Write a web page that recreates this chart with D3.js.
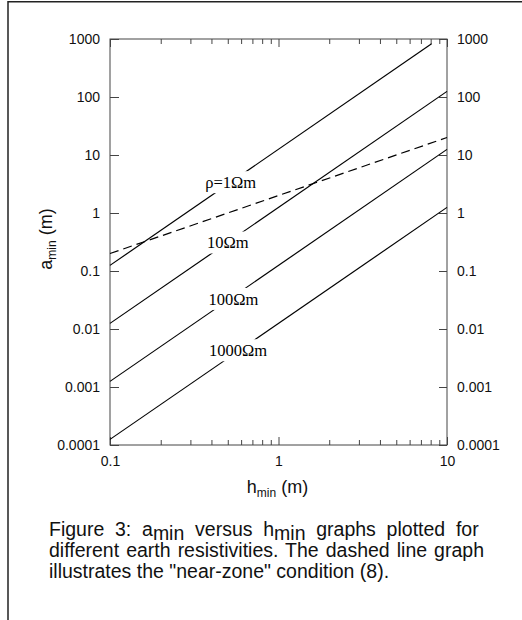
<!DOCTYPE html>
<meta charset="utf-8">
<style>
  body { margin: 0; background: #fff; }
  svg { display: block; }
</style>
<body>
<div id="chart"></div>

<script src="https://cdn.jsdelivr.net/npm/d3@7"></script>
<script>

// tick values and labels
var xMajor = [0.1, 1, 10];
var xLabels = ["0.1", "1", "10"];
var xMinor = [0.2, 0.3, 0.4, 0.5, 0.6, 0.7, 0.8, 0.9, 2, 3, 4, 5, 6, 7, 8, 9];
var yMajor = [0.0001, 0.001, 0.01, 0.1, 1, 10, 100, 1000];
var yLabels = ["0.0001", "0.001", "0.01", "0.1", "1", "10", "100", "1000"];

// a_min against h_min, end points of each straight line (log-log plot)
var rho1 = [[0.1, 0.125], [8.1, 830]];
var rho10 = [[0.1, 0.0125], [10, 125]];
var rho100 = [[0.1, 0.00125], [10, 12.5]];
var rho1000 = [[0.1, 0.000125], [10, 1.25]];
var nearZone = [[0.1, 0.2], [10, 20]];

// curve labels, sitting on their line
var curveNames = ["ρ=1Ωm", "10Ωm", "100Ωm", "1000Ωm"];
var labelH = [0.52, 0.50, 0.54, 0.575];
var labelA = [3.4, 0.31, 0.033, 0.0043];

var margin = {top: 39, right: 75, bottom: 175, left: 110},
    width = 447 - margin.left,
    height = 445 - margin.top;

var sans = "'Liberation Sans', Arial, sans-serif";
var frameColor = "#444";

var root = d3.select("#chart")
  .append("svg")
    .attr("width", 522)
    .attr("height", 620);

// page border
root.append("rect")
  .attr("x", 8).attr("y", 1.75)
  .attr("width", 700).attr("height", 700)
  .attr("fill", "none")
  .attr("stroke", "#222")
  .attr("stroke-width", 1.5);

var svg = root.append("g")
  .attr("transform", "translate(" + margin.left + "," + margin.top + ")");

var x = d3.scaleLog().domain([0.1, 10]).range([0, width]);
var y = d3.scaleLog().domain([0.0001, 1000]).range([height, 0]);

function styleAxis(g) {
  g.select(".domain").remove();
  g.attr("font-family", sans).attr("font-size", 14);
  g.selectAll(".tick line").attr("stroke", frameColor);
  g.selectAll(".tick text").attr("fill", "#111");
}

// left and right
svg.append("g")
  .call(d3.axisLeft(y).tickValues(yMajor).tickFormat(function(d, i) { return yLabels[i]; })
    .tickSizeInner(-9).tickSizeOuter(0).tickPadding(10))
  .call(styleAxis);

svg.append("g")
  .attr("transform", "translate(" + width + ",0)")
  .call(d3.axisRight(y).tickValues(yMajor).tickFormat(function(d, i) { return yLabels[i]; })
    .tickSizeInner(-8).tickSizeOuter(0).tickPadding(10))
  .call(styleAxis);

// bottom
svg.append("g")
  .attr("transform", "translate(0," + height + ")")
  .call(d3.axisBottom(x).tickValues(xMajor).tickFormat(function(d, i) { return xLabels[i]; })
    .tickSizeInner(-8).tickSizeOuter(0).tickPadding(11))
  .call(styleAxis);

svg.append("g")
  .attr("transform", "translate(0," + height + ")")
  .call(d3.axisBottom(x).tickValues(xMinor).tickFormat("").tickSizeInner(-5).tickSizeOuter(0))
  .call(styleAxis);

// top, no labels
svg.append("g")
  .call(d3.axisTop(x).tickValues(xMajor).tickFormat("").tickSizeInner(-8).tickSizeOuter(0))
  .call(styleAxis);

svg.append("g")
  .call(d3.axisTop(x).tickValues(xMinor).tickFormat("").tickSizeInner(-5).tickSizeOuter(0))
  .call(styleAxis);

// frame
svg.append("rect")
  .attr("width", width).attr("height", height)
  .attr("fill", "none")
  .attr("stroke", frameColor)
  .attr("stroke-width", 1);

var line = d3.line()
  .x(function(d) { return x(d[0]); })
  .y(function(d) { return y(d[1]); });

[rho1, rho10, rho100, rho1000].forEach(function(s) {
  svg.append("path")
    .datum(s)
    .attr("d", line)
    .attr("fill", "none")
    .attr("stroke", "#000")
    .attr("stroke-width", 1.2);
});

svg.append("path")
  .datum(nearZone)
  .attr("d", line)
  .attr("fill", "none")
  .attr("stroke", "#000")
  .attr("stroke-width", 1.2)
  .attr("stroke-dasharray", "9,5");

// labels cut a gap in their line
curveNames.forEach(function(name, i) {
  var g = svg.append("g")
    .attr("transform", "translate(" + x(labelH[i]) + "," + y(labelA[i]) + ")");
  var bg = g.append("rect").attr("fill", "#fff");
  var t = g.append("text")
    .attr("text-anchor", "middle")
    .attr("dy", "0.35em")
    .attr("font-family", "'Liberation Serif', 'Times New Roman', serif")
    .attr("font-size", 16.5)
    .text(name);
  var w = t.node().getComputedTextLength() + 2;
  bg.attr("x", -w / 2).attr("y", -11).attr("width", w).attr("height", 22);
});

// axis titles
var xt = svg.append("text")
  .attr("x", width / 2 - 1)
  .attr("y", height + 48)
  .attr("text-anchor", "middle")
  .attr("font-family", sans)
  .attr("font-size", 18)
  .attr("fill", "#111");
xt.append("tspan").text("h");
xt.append("tspan").attr("font-size", 12).attr("dy", 4).text("min");
xt.append("tspan").attr("dy", -4).text(" (m)");

var yt = root.append("text")
  .attr("transform", "translate(52,239) rotate(-90)")
  .attr("text-anchor", "middle")
  .attr("font-family", sans)
  .attr("font-size", 18)
  .attr("fill", "#111");
yt.append("tspan").text("a");
yt.append("tspan").attr("font-size", 12).attr("dy", 4).text("min");
yt.append("tspan").attr("dy", -4).text(" (m)");

// caption, first two lines justified
var capLeft = 49, capWidth = 435;
var caption = root.append("g")
  .attr("font-family", sans)
  .attr("font-size", 19.5)
  .attr("fill", "#111")
  .style("white-space", "pre");

var l1 = caption.append("text").attr("x", capLeft).attr("y", 536);
l1.append("tspan").text("Figure 3:  a");
l1.append("tspan").attr("dy", 3.5).text("min");
l1.append("tspan").attr("dy", -3.5).text(" versus h");
l1.append("tspan").attr("dy", 3.5).text("min");
l1.append("tspan").attr("dy", -3.5).text(" graphs plotted for");

var l2 = caption.append("text").attr("x", capLeft).attr("y", 557)
  .text("different earth resistivities. The dashed line graph");

caption.append("text").attr("x", capLeft).attr("y", 578)
  .text("illustrates the \"near-zone\" condition (8).");

[l1, l2].forEach(function(t) {
  var n = t.text().split(" ").length - 1;
  var extra = capWidth - t.node().getComputedTextLength();
  t.attr("word-spacing", Math.max(0, extra / n));
});

</script>
</body>
